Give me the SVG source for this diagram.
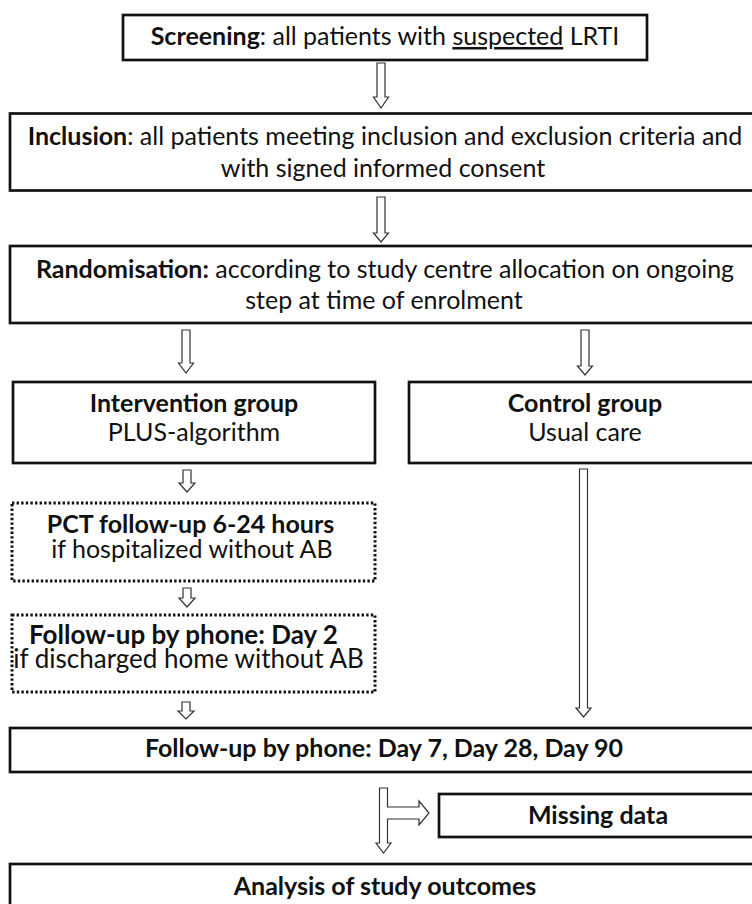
<svg xmlns="http://www.w3.org/2000/svg" width="752" height="904" viewBox="0 0 752 904">
<style>
.box{fill:#fff;stroke:#111;stroke-width:2.7}
.dot{fill:#fff;stroke:#111;stroke-width:3;stroke-dasharray:2.4 2.2}
.arr{fill:#fff;stroke:#333;stroke-width:1.2;stroke-linejoin:miter}
text{font-family:Lato,"Open Sans",sans-serif;font-size:25px;fill:#111;text-anchor:middle}
.b{font-weight:bold}
.l{font-size:26px}
</style>
<rect width="752" height="904" fill="#fff"/>
<g id="connectors">
<path class="arr" d="M377,63 L385,63 L385,97 L388.5,97 L381,108 L373.5,97 L377,97 Z"/>
<path class="arr" d="M377,197 L385,197 L385,233 L388.5,233 L381,242 L373.5,233 L377,233 Z"/>
<path class="arr" d="M182,330 L190,330 L190,363 L193.5,363 L186,373 L178.5,363 L182,363 Z"/>
<path class="arr" d="M581,330 L589,330 L589,366 L592.5,366 L585,375 L577.5,366 L581,366 Z"/>
<path class="arr" d="M183,470 L191,470 L191,483 L195,483 L187,492 L179,483 L183,483 Z"/>
<path class="arr" d="M183,588 L191,588 L191,598 L195,598 L187,607 L179,598 L183,598 Z"/>
<path class="arr" d="M182,702 L190,702 L190,711 L194,711 L186,719 L178,711 L182,711 Z"/>
<path class="arr" d="M579.5,469 L587.5,469 L587.5,708 L591,708 L583.5,717 L576,708 L579.5,708 Z"/>
<path class="arr" d="M379.5,788 L387.5,788 L387.5,807 L419,807 L419,801 L429,813 L419,825 L419,819 L387.5,819 L387.5,843 L391,843 L383.5,853 L376,843 L379.5,843 Z"/>
</g>
<g id="screening">
<rect class="box" x="123" y="15" width="524" height="45"/>
<text x="385" y="45"><tspan class="b">Screening</tspan>: all patients with <tspan text-decoration="underline">suspected</tspan> LRTI</text>
</g>
<g id="inclusion">
<rect class="box" x="10" y="113.5" width="750" height="77"/>
<text x="385" y="145"><tspan class="b">Inclusion</tspan>: all patients meeting inclusion and exclusion criteria and</text>
<text x="383" y="177">with signed informed consent</text>
</g>
<g id="randomisation">
<rect class="box" x="10" y="246" width="750" height="77"/>
<text x="385" y="278"><tspan class="b">Randomisation:</tspan> according to study centre allocation on ongoing</text>
<text x="384" y="309">step at time of enrolment</text>
</g>
<g id="intervention">
<rect class="box" x="13" y="382" width="362" height="81"/>
<text class="b" x="194" y="412">Intervention group</text>
<text x="194" y="441">PLUS-algorithm</text>
</g>
<g id="control">
<rect class="box" x="409" y="382" width="352" height="81"/>
<text class="b" x="585" y="412">Control group</text>
<text x="585" y="441">Usual care</text>
</g>
<g id="pct">
<rect class="dot" x="12" y="503" width="363" height="78"/>
<text class="b" x="190.5" y="533">PCT follow-up 6-24 hours</text>
<text x="192" y="558">if hospitalized without AB</text>
</g>
<g id="day2">
<rect class="dot" x="12" y="615" width="363" height="77"/>
<text class="b l" x="183.5" y="644">Follow-up by phone: Day 2</text>
<text class="l" x="188.5" y="668">if discharged home without AB</text>
</g>
<g id="followup">
<rect class="box" x="10" y="728" width="748" height="44"/>
<text class="b" x="384" y="757">Follow-up by phone: Day 7, Day 28, Day 90</text>
</g>
<g id="missing">
<rect class="box" x="439" y="794" width="320" height="43"/>
<text class="b" x="598" y="824">Missing data</text>
</g>
<g id="analysis">
<rect class="box" x="10" y="864" width="750" height="60"/>
<text class="b" x="385" y="895">Analysis of study outcomes</text>
</g>
</svg>
